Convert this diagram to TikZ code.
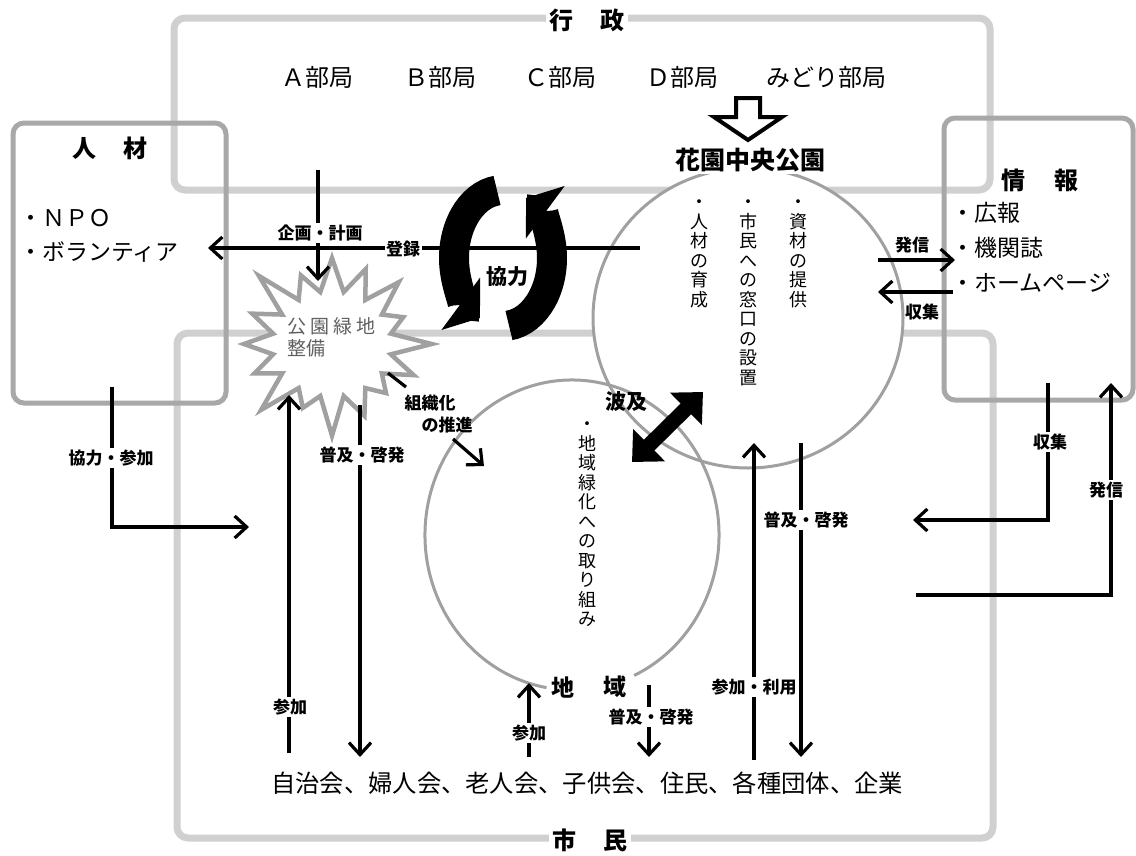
\documentclass[tikz,border=0pt]{standalone}
\usepackage{fontspec}
\setmainfont{Noto Sans CJK JP}
\usetikzlibrary{arrows.meta,shapes.symbols}
\definecolor{boxlight}{HTML}{D0D0D0}
\definecolor{boxdark}{HTML}{A8A8A8}
\definecolor{ringcol}{HTML}{A0A0A0}
\definecolor{burstcol}{HTML}{A0A0A0}
\definecolor{bursttext}{HTML}{606060}
\tikzset{
  bigbox/.style={draw=boxlight, line width=7pt, rounded corners=11pt},
  sidebox/.style={draw=boxdark, line width=5pt, rounded corners=11pt},
  ringline/.style={draw=ringcol, line width=3pt},
  conn/.style={line width=3.2pt},
  conarrow/.style={line width=3.2pt, -{Straight Barb[length=12pt,width=22pt]}},
  lbl/.style={fill=white, inner sep=1.5pt, font=\fontsize{17}{17}\selectfont\bfseries},
  lblnf/.style={inner sep=1pt, font=\fontsize{17}{17}\selectfont\bfseries},
  ttl/.style={fill=white, inner sep=3pt, font=\fontsize{24}{24}\selectfont\bfseries},
  bodytxt/.style={anchor=west, inner sep=0pt, font=\fontsize{24}{24}\selectfont},
  listtxt/.style={anchor=west, inner sep=0pt, font=\fontsize{23}{23}\selectfont},
  vtext/.style={anchor=north, align=center, inner sep=0pt, font=\fontsize{18}{19.5}\selectfont},
  bigarc/.style={line width=30pt, -{Triangle[length=24pt,width=64pt]}},
  boldlbl/.style={inner sep=1pt, font=\fontsize{21}{21}\selectfont\bfseries},
}
\begin{document}
\begin{tikzpicture}[x=1pt,y=-1pt]
\useasboundingbox (0,0) rectangle (1136,855);
% ---------- frames
\draw[bigbox] (174,18) rectangle (990,190);
\draw[bigbox] (177,333) rectangle (993,838);
\draw[sidebox] (13,123) rectangle (226,403);
\draw[sidebox] (944,118) rectangle (1133,400);
% ---------- white fills
\fill[white] (748,318) ellipse [x radius=155pt, y radius=150pt];
\node[starburst, starburst points=16, starburst point height=46pt,
      minimum width=212pt, minimum height=198pt, draw=burstcol,
      line width=4.5pt, fill=white, inner sep=0pt] (burst) at (332,344) {};
% ---------- circles
\draw[ringline] (748,318) ellipse [x radius=155pt, y radius=150pt];
\draw[ringline] ([shift={(572,535)}]-65:147pt and 155pt)
   arc[start angle=-65, end angle=260, x radius=147pt, y radius=155pt];
% ---------- titles
\node[ttl] (gyosei) at (587,20) {行\hspace{28pt}政};
\node[ttl] (shimin) at (590,840) {市\hspace{28pt}民};
\node[ttl, fill=none] (jinzai) at (110,148) {人\hspace{28pt}材};
\node[ttl, fill=none] (joho) at (1040,180) {情\hspace{29pt}報};
% ---------- departments
\node[bodytxt] (depA) at (281,77) {Ａ部局};
\node[bodytxt] (depB) at (404,77) {Ｂ部局};
\node[bodytxt] (depC) at (524,77) {Ｃ部局};
\node[bodytxt] (depD) at (646,77) {Ｄ部局};
\node[bodytxt] (depM) at (766,77) {みどり部局};
% hollow arrow
\draw[line width=4pt, fill=white, line join=miter]
  (736,98) -- (760,98) -- (760,117) -- (782,117) -- (748,140) -- (714,117) -- (736,117) -- cycle;
\node[ttl, inner sep=2pt, font=\fontsize{25}{25}\selectfont\bfseries] (park) at (750,160) {花園中央公園};
% ---------- lists
\node[listtxt] (npo) at (19,218) {・ＮＰＯ};
\node[listtxt] (vol) at (19,252) {・ボランティア};
\node[listtxt] (koho) at (951,213) {・広報};
\node[listtxt] (kikan) at (951,248) {・機関誌};
\node[listtxt] (hp) at (951,283) {・ホームページ};
\node[bodytxt, font=\fontsize{24.3}{24.3}\selectfont] (groups) at (271,783) {自治会、婦人会、老人会、子供会、住民、各種団体、企業};
% ---------- vertical texts
\node[vtext] (v1) at (699,200) {・\\人\\材\\の\\育\\成};
\node[vtext] (v2) at (748,200) {・\\市\\民\\へ\\の\\窓\\口\\の\\設\\置};
\node[vtext] (v3) at (798,200) {・\\資\\材\\の\\提\\供};
\node[vtext] (v4) at (587,422) {・\\地\\域\\緑\\化\\へ\\の\\取\\り\\組\\み};
% ---------- starburst text
\node[anchor=west, align=left, inner sep=0pt, text=bursttext,
      font=\fontsize{19}{22}\selectfont] (burstT) at (287,337)
      {公\hspace{4pt}園\hspace{4pt}緑\hspace{4pt}地\\整備};
% ---------- cooperation cycle
\draw[bigarc] ([shift={(503,258)}]97:49pt and 68pt)
   arc[start angle=97, end angle=242, x radius=49pt, y radius=68pt];
\draw[bigarc] ([shift={(503,258)}]277:49pt and 68pt)
   arc[start angle=277, end angle=422, x radius=49pt, y radius=68pt];
% ---------- connectors
\coordinate (kA) at (318,170); \coordinate (kB) at (318,281);
\coordinate (tR) at (640,248); \coordinate (tL) at (208,248);
\draw[conarrow] (tR) -- (tL);
\draw[conarrow] (kA) -- (kB);
\node[lbl] (kikaku) at (320,233) {企画・計画};
\node[lbl] (touroku) at (403,249) {登録};
\node[boldlbl] (kyoryoku) at (507,277) {協力};

\coordinate (kyA) at (112,387); \coordinate (kyB) at (112,527); \coordinate (kyC) at (249,527);
\draw[conarrow] (kyA) -- (kyB) -- (kyC);
\node[lbl] (kyosan) at (111,458) {協力・参加};

\coordinate (sA) at (289,753); \coordinate (sB) at (289,395);
\draw[conarrow] (sA) -- (sB);
\node[lbl] (sanka1) at (290,707) {参加};

\coordinate (fA) at (360,405); \coordinate (fB) at (360,757);
\draw[conarrow] (fA) -- (fB);
\node[lbl] (fukyu1) at (362,455) {普及・啓発};

\coordinate (soA) at (388,373); \coordinate (soB) at (406,387);
\draw[conn] (soA) -- (soB);
\node[lblnf] (soshiki1) at (430,403) {組織化};
\node[lblnf] (soshiki2) at (447,425) {の推進};
\coordinate (soC) at (453,439); \coordinate (soD) at (484,466);
\draw[conarrow] (soC) -- (soD);

\coordinate (s2A) at (529,757); \coordinate (s2B) at (529,683);
\draw[conarrow] (s2A) -- (s2B);
\node[lbl] (sanka2) at (529,733) {参加};

\coordinate (f2A) at (649,685); \coordinate (f2B) at (649,757);
\draw[conarrow] (f2A) -- (f2B);
\node[lbl] (fukyu2) at (651,717) {普及・啓発};

\coordinate (rA) at (754,760); \coordinate (rB) at (754,443);
\draw[conarrow] (rA) -- (rB);
\node[lbl] (riyo) at (754,687) {参加・利用};

\coordinate (f3A) at (801,443); \coordinate (f3B) at (801,757);
\draw[conarrow] (f3A) -- (f3B);
\node[lbl] (fukyu3) at (806,520) {普及・啓発};

\coordinate (hA) at (878,260); \coordinate (hB) at (955,260);
\draw[conarrow] (hA) -- (hB);
\node[lblnf] (hasshin1) at (912,245) {発信};
\coordinate (cA) at (953,292); \coordinate (cB) at (878,292);
\draw[conarrow] (cA) -- (cB);
\node[lblnf] (shushu1) at (922,312) {収集};

\coordinate (c2A) at (1048,383); \coordinate (c2B) at (1048,520); \coordinate (c2C) at (913,520);
\draw[conarrow] (c2A) -- (c2B) -- (c2C);
\node[lbl] (shushu2) at (1050,442) {収集};

\coordinate (h2A) at (916,595); \coordinate (h2B) at (1111,595); \coordinate (h2C) at (1111,383);
\draw[conarrow] (h2A) -- (h2B) -- (h2C);
\node[lbl] (hasshin2) at (1106,490) {発信};

% ---------- spread
\coordinate (haA) at (632,462); \coordinate (haB) at (703,392);
\draw[line width=15pt, {Triangle[length=24pt,width=44pt]}-{Triangle[length=24pt,width=44pt]}] (haA) -- (haB);
\node[boldlbl] (hakyu) at (626,402) {波及};
\node[boldlbl, font=\fontsize{23}{23}\selectfont\bfseries] (chi) at (563,688) {地};
\node[boldlbl, font=\fontsize{23}{23}\selectfont\bfseries] (iki) at (615,687) {域};
\end{tikzpicture}
\end{document}
